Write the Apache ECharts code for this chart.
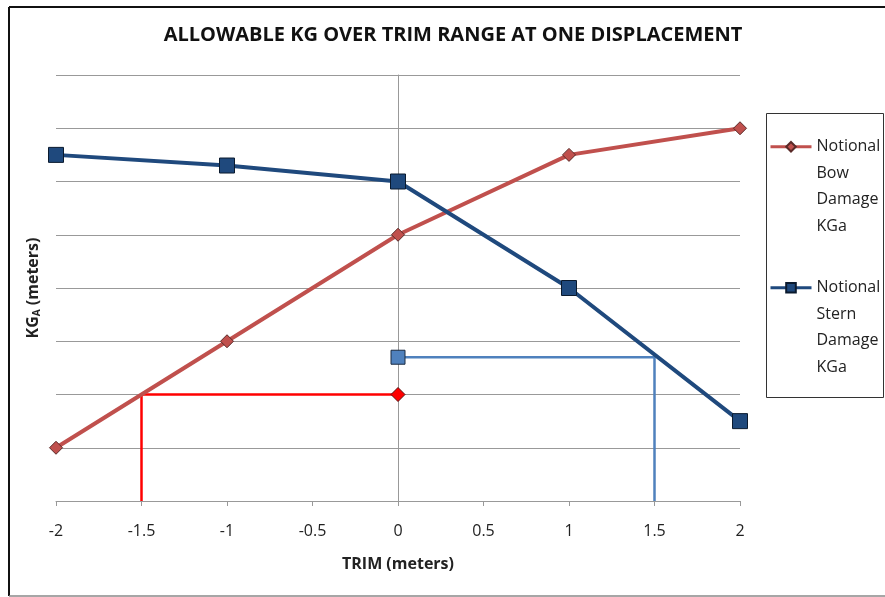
<!DOCTYPE html>
<html>
<head>
<meta charset="utf-8">
<script src="https://cdn.jsdelivr.net/npm/echarts@6/dist/echarts.min.js"></script>
<style>
html,body{margin:0;padding:0;background:#fff;}
#chart{width:885px;height:597px;}
</style>
</head>
<body>
<div id="chart"></div>
<script>
var titleText = 'ALLOWABLE KG OVER TRIM RANGE AT ONE DISPLACEMENT';
var trims = [-2, -1, 0, 1, 2];
var bowKG = [1, 3, 5, 6.5, 7];
var sternKG = [6.5, 6.3, 6, 4, 1.5];
var bowName = 'Notional Bow Damage KGa';
var sternName = 'Notional Stern Damage KGa';
var bowGuideX = [-1.5, -1.5, 0];
var bowGuideY = [0, 2, 2];
var sternGuideX = [0, 1.5, 1.5];
var sternGuideY = [2.7, 2.7, 0];
var xTicks = [-2, -1.5, -1, -0.5, 0, 0.5, 1, 1.5, 2];

function pairs(xs, ys){ return xs.map(function(x,i){ return [x, ys[i]]; }); }

var chart = echarts.init(document.getElementById('chart'));
var font = 'Open Sans';
chart.setOption({
  animation: false,
  backgroundColor: '#fff',
  title: {
    text: titleText, left: 448, top: 20, textAlign: 'center',
    textStyle: {fontFamily: font, fontWeight: 'bold', fontSize: 20, color: '#111'}
  },
  grid: {left: 56, right: 145, top: 75, bottom: 96, outerBoundsMode: 'none', containLabel: false},
  legend: {
    orient: 'vertical', left: 769, top: 54,
    padding: 0,
    itemWidth: 41, itemHeight: 12, itemGap: -44.5,
    data: [bowName, sternName],
    lineStyle: {width: 3},
    formatter: function(n){ return '\n\n\n' + n.split(' ').join('\n'); },
    textStyle: {fontFamily: font, fontSize: 16, color: '#222', lineHeight: 26.5}
  },
  xAxis: {
    type: 'value', min: -2, max: 2, interval: 0.5,
    name: 'TRIM (meters)', nameLocation: 'middle', nameGap: 55,
    nameTextStyle: {fontFamily: font, fontWeight: 'bold', fontSize: 16, color: '#222'},
    axisLine: {show: true, lineStyle: {color: '#999', width: 1}},
    axisTick: {show: true, length: 5, lineStyle: {color: '#999'}},
    axisLabel: {fontFamily: font, fontSize: 16, color: '#222', margin: 22,
      formatter: function(v){ return xTicks.indexOf(v) >= 0 ? String(v) : ''; }},
    splitLine: {show: false}
  },
  yAxis: [{
    type: 'value', min: 0, max: 8, interval: 1,
    axisLine: {show: true, onZero: true, lineStyle: {color: '#999', width: 1}},
    axisTick: {show: false},
    axisLabel: {show: false},
    splitLine: {show: true, lineStyle: {color: '#999', width: 1}}
  }, {
    type: 'value', min: 0, max: 8, interval: 1, position: 'left',
    name: '{a|KG}{s|A}{a| (meters)}', nameLocation: 'middle', nameGap: 14,
    nameTextStyle: {rich: {
      a: {fontFamily: font, fontWeight: 'bold', fontSize: 16, color: '#222'},
      s: {fontFamily: font, fontWeight: 'bold', fontSize: 10, color: '#222', verticalAlign: 'bottom', padding: [7,0,0,0]}
    }},
    axisLine: {show: false, onZero: false},
    axisTick: {show: false},
    axisLabel: {show: false},
    splitLine: {show: false}
  }],
  graphic: [
    {type: 'line', shape: {x1: 9, y1: 7, x2: 9, y2: 596}, style: {stroke: '#111', lineWidth: 2}},
    {type: 'line', shape: {x1: 9, y1: 7, x2: 885, y2: 7}, style: {stroke: '#111', lineWidth: 2}},
    {type: 'line', shape: {x1: 9, y1: 596, x2: 885, y2: 596}, style: {stroke: '#888', lineWidth: 1.5}},
    {type: 'rect', shape: {x: 766.5, y: 113.5, width: 117, height: 284}, style: {fill: 'none', stroke: '#333', lineWidth: 1}}
  ],
  series: [
    {
      name: bowName, type: 'line', data: pairs(trims, bowKG),
      symbol: 'diamond', symbolSize: 13, z: 3,
      lineStyle: {color: '#c0504d', width: 4},
      itemStyle: {color: '#c0504d', borderColor: '#5a2a28', borderWidth: 1}
    },
    {
      name: sternName, type: 'line', data: pairs(trims, sternKG),
      symbol: 'rect', symbolSize: 15, z: 3,
      lineStyle: {color: '#1f497d', width: 4},
      itemStyle: {color: '#1f497d', borderColor: '#0a1a2e', borderWidth: 1}
    },
    {
      name: 'bowGuide', type: 'line', z: 2,
      data: pairs(bowGuideX, bowGuideY).map(function(p, i, arr){
        return {value: p, symbol: i === arr.length - 1 ? 'diamond' : 'none'};
      }),
      symbolSize: 14,
      lineStyle: {color: '#ff0000', width: 2.5},
      itemStyle: {color: '#ff0000', borderColor: '#5a1010', borderWidth: 1}
    },
    {
      name: 'sternGuide', type: 'line', z: 2,
      data: pairs(sternGuideX, sternGuideY).map(function(p, i){
        return {value: p, symbol: i === 0 ? 'rect' : 'none'};
      }),
      symbolSize: 14,
      lineStyle: {color: '#4f81bd', width: 2.5},
      itemStyle: {color: '#4f81bd', borderColor: '#1a2a40', borderWidth: 1}
    }
  ]
});
</script>
</body>
</html>
